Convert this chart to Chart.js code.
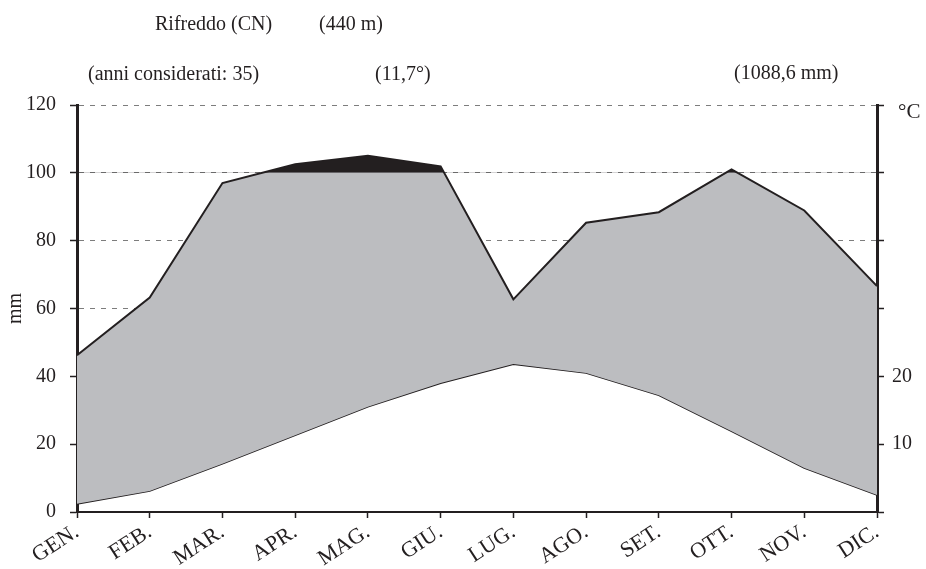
<!DOCTYPE html>
<html>
<head>
<meta charset="utf-8">
<script src="https://cdn.jsdelivr.net/npm/chart.js@4/dist/chart.umd.min.js"></script>
<style>
  html, body { margin: 0; padding: 0; background: #ffffff; }
  #wrap { width: 926px; height: 569px; }
</style>
</head>
<body>
<div id="wrap"><canvas id="chart" width="926" height="569"></canvas></div>
<script>
// Walter–Lieth climate diagram, Rifreddo (CN)
const months = ['GEN.', 'FEB.', 'MAR.', 'APR.', 'MAG.', 'GIU.', 'LUG.', 'AGO.', 'SET.', 'OTT.', 'NOV.', 'DIC.'];
// monthly precipitation on the diagram's mm scale
const precipitation = [46.2, 63.2, 97.0, 102.5, 105.0, 101.9, 62.7, 85.3, 88.4, 101.0, 88.9, 66.6];
// monthly mean temperature, °C
const temperature = [1.2, 3.1, 7.1, 11.3, 15.5, 19.0, 21.8, 20.5, 17.2, 11.9, 6.5, 2.5];
const mmTicks = [0, 20, 40, 60, 80, 100, 120];
const tempTicks = [0, 10, 20, 30, 40, 50, 60];
const tempTickLabels = { 10: '10', 20: '20' };
const headerLines = [
  { text: 'Rifreddo (CN)', x: 155, y: 30 },
  { text: '(440 m)', x: 319, y: 30 },
  { text: '(anni considerati: 35)', x: 88, y: 80 },
  { text: '(11,7°)', x: 375, y: 80 },
  { text: '(1088,6 mm)', x: 734, y: 79 }
];
const tempUnit = { text: '°C', x: 898, y: 118 };

const INK = '#231f20';
const FONT = '"Liberation Serif", "DejaVu Serif", serif';

const headerPlugin = {
  id: 'header',
  afterDraw(chart) {
    const ctx = chart.ctx;
    ctx.save();
    ctx.fillStyle = INK;
    ctx.textAlign = 'left';
    ctx.textBaseline = 'alphabetic';
    ctx.font = '20px ' + FONT;
    headerLines.forEach(h => ctx.fillText(h.text, h.x, h.y));
    ctx.font = '21px ' + FONT;
    ctx.fillText(tempUnit.text, tempUnit.x, tempUnit.y);
    ctx.restore();
  }
};

new Chart(document.getElementById('chart'), {
  type: 'line',
  data: {
    labels: months,
    datasets: [
      {
        // wet months above 100 mm
        label: 'eccedenza',
        data: precipitation,
        yAxisID: 'y',
        borderWidth: 0,
        pointRadius: 0,
        tension: 0,
        fill: { target: { value: 100 }, above: INK, below: 'rgba(0,0,0,0)' }
      },
      {
        label: 'precipitazioni',
        data: precipitation,
        yAxisID: 'y',
        borderColor: INK,
        borderWidth: 2,
        pointRadius: 0,
        tension: 0,
        backgroundColor: '#bcbdc0',
        fill: '+1'
      },
      {
        label: 'temperatura',
        data: temperature,
        yAxisID: 'yT',
        borderColor: INK,
        borderWidth: 1.6,
        pointRadius: 0,
        tension: 0,
        fill: false
      }
    ]
  },
  options: {
    responsive: false,
    animation: false,
    layout: { padding: { top: 105, left: 0, right: 0, bottom: 0 } },
    plugins: { legend: { display: false }, tooltip: { enabled: false }, title: { display: false } },
    scales: {
      x: {
        type: 'category',
        offset: false,
        afterFit(s) { s.height = 57; },
        grid: { drawOnChartArea: false, drawTicks: true, tickLength: 6, color: INK, tickColor: INK, tickWidth: 1.5 },
        border: { display: true, color: INK, width: 2 },
        ticks: {
          autoSkip: false, minRotation: 33, maxRotation: 33, padding: 1,
          color: INK, font: { family: FONT, size: 22 }
        }
      },
      y: {
        position: 'left',
        min: 0, max: 120,
        afterFit(s) { s.width = 77; },
        afterBuildTicks(s) { s.ticks = mmTicks.map(v => ({ value: v })); },
        title: { display: true, text: 'mm', color: INK, font: { family: FONT, size: 20 }, padding: { top: 4, bottom: 0 } },
        grid: {
          color: c => (c.tick && c.tick.value >= 60 ? '#7d7d7d' : 'rgba(0,0,0,0)'),
          lineWidth: 1,
          tickLength: 7,
          tickColor: INK,
          tickWidth: 1.5
        },
        border: { display: true, color: INK, width: 3, dash: [5, 6] },
        ticks: { padding: 14, color: INK, font: { family: FONT, size: 20 } }
      },
      yT: {
        position: 'right',
        min: 0, max: 60,
        afterFit(s) { s.width = 49; },
        afterBuildTicks(s) { s.ticks = tempTicks.map(v => ({ value: v })); },
        grid: { drawOnChartArea: false, tickLength: 7, color: INK, tickColor: INK, tickWidth: 1.5 },
        border: { display: true, color: INK, width: 3 },
        ticks: {
          padding: 8, color: INK, font: { family: FONT, size: 20 },
          callback: v => tempTickLabels[v] || ''
        }
      }
    }
  },
  plugins: [headerPlugin]
});
</script>
</body>
</html>
